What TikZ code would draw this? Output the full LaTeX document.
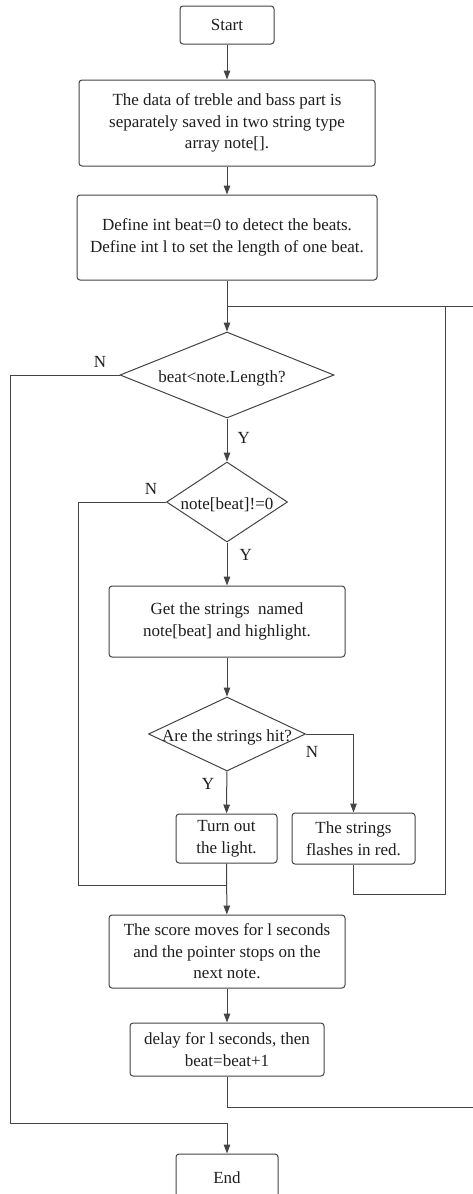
\documentclass[tikz,border=0pt]{standalone}
\usepackage{fontspec}
\setmainfont{Liberation Serif}
\usetikzlibrary{shapes.geometric,arrows.meta}
\definecolor{ln}{HTML}{444444}
\definecolor{tx}{HTML}{1E1E1E}
\begin{document}
\begin{tikzpicture}[x=1pt,y=-1pt,
  every node/.style={text=tx,font=\fontsize{17}{21.6}\selectfont},
  box/.style={draw=ln,line width=1pt,rounded corners=3pt,align=center,inner sep=0pt},
  dia/.style={draw=ln,line width=1pt,diamond,inner sep=0pt,shape aspect=1},
  link/.style={draw=ln,line width=1pt},
  arr/.style={link,-{Triangle[length=9pt,width=6.5pt]}},
  lab/.style={inner sep=0pt}]
\clip (0,0) rectangle (473,1194);
\useasboundingbox (0,0) rectangle (473,1194);

% process steps
\node[box,minimum width=94,minimum height=38] (start) at (227,25) {Start};
\node[box,minimum width=296,minimum height=86] (data) at (227,123)
  {The data of treble and bass part is\\separately saved in two string type\\array note[].};
\node[box,minimum width=300,minimum height=85] (def) at (227,237.5)
  {Define int beat=0 to detect the beats.\\Define int l to set the length of one beat.};
\node[dia,minimum width=214,minimum height=86,label={[lab,yshift=-3pt,xshift=-5pt]center:beat<note.Length?}] (d1) at (227,375) {};
\node[dia,minimum width=121,minimum height=80,label={[lab,yshift=-3pt]center:note[beat]!=0}] (d2) at (227,502) {};
\node[box,minimum width=236,minimum height=71] (get) at (227,621.5)
  {Get the strings\ \ named\\note[beat] and highlight.};
\node[dia,minimum width=157,minimum height=74,label={[lab,yshift=-3pt]center:Are the strings hit?}] (d3) at (227,734) {};
\node[box,minimum width=101,minimum height=49] (turn) at (226.5,838.5) {Turn out\\the light.};
\node[box,minimum width=123,minimum height=51] (flash) at (353.5,838.5) {The strings\\flashes in red.};
\node[box,minimum width=236,minimum height=73] (score) at (227,951.5)
  {The score moves for l seconds\\and the pointer stops on the\\next note.};
\node[box,minimum width=194,minimum height=53] (delay) at (227,1049.5)
  {delay for l seconds, then\\beat=beat+1};
\node[box,minimum width=102,minimum height=52] (end) at (227,1180) {};
\node (endtxt) at (227,1178) {End};

% junctions and bends
\coordinate (j1) at (227,306);
\coordinate (rtop) at (473,306);
\coordinate (rloopt) at (445,306);
\coordinate (rloopb) at (445,894);
\coordinate (j2) at (227,885);
\coordinate (lin) at (78,885);
\coordinate (lout) at (10,1123);
\coordinate (j3) at (227,1123);
\coordinate (rbot) at (473,1107);

% straight flow
\draw[arr] (start) -- (data);
\draw[arr] (data) -- (def);
\draw[link] (def.south) -- (j1);
\draw[arr] (j1) -- (d1.north);
\draw[arr] (d1) -- node[lab,right=10pt,pos=0.45] {Y} (d2);
\draw[arr] (d2) -- node[lab,right=12pt,pos=0.3] {Y} (get);
\draw[arr] (get) -- (d3);
\draw[arr] (d3) -- node[lab,left=12pt,pos=0.3] {Y} (turn);
\draw[arr] (turn) -- (score);
\draw[arr] (score) -- (delay);

% branches and loops
\draw[arr] (d3.east) -| (flash.north);
\node[lab] at (312,752) {N};
\draw[link] (flash.south) |- (rloopb) -- (rloopt);
\draw[link] (rtop) -- (j1);
\draw[link] (d2.west) -| (lin) -- (j2);
\node[lab] at (151,489) {N};
\draw[link] (d1.west) -| (lout) -- (j3);
\draw[arr] (j3) -- (end.north);
\node[lab] at (100,362) {N};
\draw[link] (delay.south) |- (rbot);
\end{tikzpicture}
\end{document}
